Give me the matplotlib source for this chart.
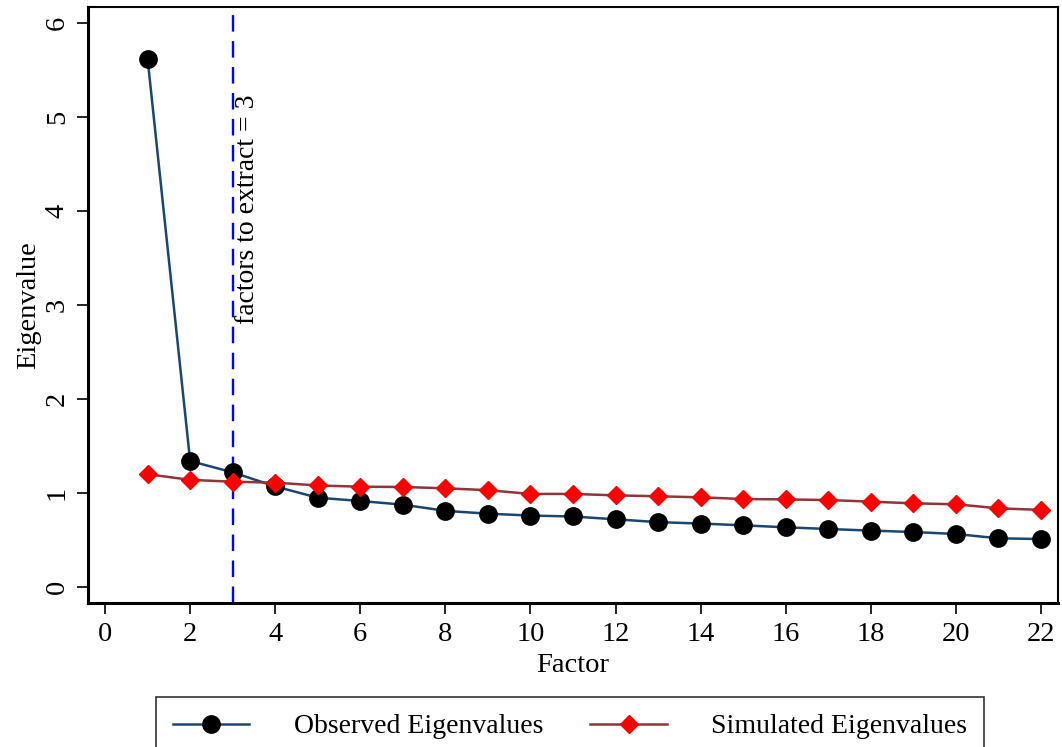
import numpy as np
import matplotlib.pyplot as plt

plt.rcParams['font.family'] = ['Liberation Serif', 'DejaVu Serif']

factors = np.arange(1, 23)
observed = [5.62, 1.34, 1.22, 1.07, 0.95, 0.915, 0.876, 0.81, 0.78, 0.76, 0.75,
            0.72, 0.69, 0.675, 0.656, 0.635, 0.617, 0.60, 0.585, 0.564, 0.518, 0.51]
simulated = [1.20, 1.14, 1.12, 1.11, 1.08, 1.067, 1.064, 1.05, 1.03, 0.99, 0.99,
             0.975, 0.965, 0.954, 0.936, 0.932, 0.925, 0.908, 0.89, 0.88, 0.837, 0.82]
n_extract = 3

fig = plt.figure(figsize=(10.62, 7.47), dpi=100)
ax = fig.add_axes([0.0829, 0.1928, 0.9133, 0.7978])

ax.plot(factors, observed, color='#1a476f', lw=1.8, marker='o', ms=12.5,
        mfc='black', mec='black', label='Observed Eigenvalues', zorder=3)
ax.plot(factors, simulated, color='#90353b', lw=1.8, marker='D', ms=9,
        mfc='red', mec='red', label='Simulated Eigenvalues', zorder=3)

ax.axvline(n_extract, color='blue', ls=(0, (7, 4)), lw=1.7, zorder=2)
ax.text(n_extract + 0.05, 5.24, 'factors to extract = 3', rotation=90,
        ha='left', va='top', fontsize=20)

ax.set_xlim(-0.4, 22.4)
ax.set_ylim(-0.17, 6.17)
ax.set_xticks(np.arange(0, 23, 2))
ax.set_yticks(np.arange(0, 7, 1))
ax.tick_params(axis='both', direction='out', length=8, width=1.2,
               labelsize=20.5, pad=5)
ax.tick_params(axis='x', pad=6)
for lab in ax.get_yticklabels():
    lab.set_rotation(90)
    lab.set_va('center')
for s in ax.spines.values():
    s.set_linewidth(1.5)
ax.spines['bottom'].set_linewidth(2.2)
ax.spines['left'].set_linewidth(2.2)

ax.set_xlabel('Factor', fontsize=20.5, labelpad=4)
ax.set_ylabel('Eigenvalue', fontsize=20.5, labelpad=3)

leg = ax.legend(loc='upper center', bbox_to_anchor=(0.497, -0.135), ncol=2,
                fontsize=20, frameon=True, fancybox=False, edgecolor='black',
                handlelength=2.75, handletextpad=1.6, columnspacing=1.7,
                borderpad=0.6)
leg.get_frame().set_linewidth(1.2)

fig.savefig('out.png', dpi=100)
